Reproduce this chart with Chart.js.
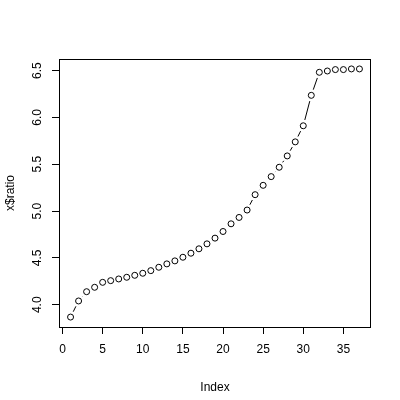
<!DOCTYPE html>
<html>
<head>
<meta charset="utf-8">
<script src="https://cdn.jsdelivr.net/npm/chart.js@4"></script>
<style>
  html, body { margin: 0; padding: 0; background: #fff; }
  #wrap { width: 400px; height: 400px; }
</style>
</head>
<body>
<div id="wrap"><canvas id="chart" width="400" height="400"></canvas></div>
<script>
// values (x$ratio by index)
const indexes = Array.from({ length: 37 }, (_, i) => i + 1)
const ratio = [
  3.868, 4.040, 4.139, 4.186, 4.239, 4.257, 4.275, 4.293, 4.314, 4.336,
  4.364, 4.400, 4.436, 4.468, 4.507, 4.550, 4.597, 4.650, 4.711, 4.782,
  4.864, 4.932, 5.011, 5.175, 5.275, 5.368, 5.468, 5.589, 5.739, 5.911,
  6.236, 6.482, 6.496, 6.511, 6.511, 6.518, 6.518,
]
const xTicks = [0, 5, 10, 15, 20, 25, 30, 35]
const yTicks = [4.0, 4.5, 5.0, 5.5, 6.0, 6.5]

const font = { family: 'Liberation Sans, Arial, sans-serif', size: 12 }

// R-style range: data range padded by 4% each side
const xMin = 1 - 0.04 * 36, xMax = 37 + 0.04 * 36
const yLo = Math.min(...ratio), yHi = Math.max(...ratio)
const yPad = 0.04 * (yHi - yLo)

// type = "b": lines between points, with a gap around each point
const gappedLines = {
  id: 'gappedLines',
  afterDatasetsDraw(chart) {
    const pts = chart.getDatasetMeta(0).data
    const gap = 6
    const ctx = chart.ctx
    ctx.save()
    ctx.strokeStyle = '#000'
    ctx.lineWidth = 1
    for (let i = 0; i < pts.length - 1; i++) {
      const a = pts[i], b = pts[i + 1]
      const dx = b.x - a.x, dy = b.y - a.y
      const len = Math.hypot(dx, dy)
      if (len <= 2 * gap) continue
      const ux = dx / len, uy = dy / len
      ctx.beginPath()
      ctx.moveTo(a.x + ux * gap, a.y + uy * gap)
      ctx.lineTo(b.x - ux * gap, b.y - uy * gap)
      ctx.stroke()
    }
    // box around plot region
    const ca = chart.chartArea
    ctx.strokeRect(ca.left + 0.5, ca.top + 0.5, ca.right - ca.left - 1, ca.bottom - ca.top)

    // y tick labels, reading bottom to top like R's las = 0
    const ys = chart.scales.y
    ctx.fillStyle = '#000'
    ctx.font = '12px ' + font.family
    ctx.textAlign = 'center'
    ctx.textBaseline = 'middle'
    yTicks.forEach(v => {
      ctx.save()
      ctx.translate(37.5, ys.getPixelForValue(v))
      ctx.rotate(-Math.PI / 2)
      ctx.fillText(v.toFixed(1), 0, 0)
      ctx.restore()
    })
    ctx.restore()
  },
}

const ctx = document.getElementById('chart')
new Chart(ctx, {
  type: 'scatter',
  data: {
    datasets: [{
      data: indexes.map((x, i) => ({ x, y: ratio[i] })),
      pointStyle: 'circle',
      pointRadius: 3,
      pointBorderWidth: 1,
      pointBorderColor: '#000',
      pointBackgroundColor: 'rgba(0,0,0,0)',
      showLine: false,
    }],
  },
  options: {
    responsive: false,
    animation: false,
    layout: { padding: { top: 59, right: 29, left: 0, bottom: 0 } },
    plugins: { legend: { display: false }, tooltip: { enabled: false } },
    scales: {
      x: {
        type: 'linear',
        min: xMin,
        max: xMax,
        afterFit(s) { s.height = 73 },
        afterBuildTicks(s) { s.ticks = xTicks.map(v => ({ value: v })) },
        grid: { drawOnChartArea: false, drawTicks: true, tickLength: 7, color: '#000' },
        border: { display: false },
        ticks: { color: '#000', font, padding: 8, maxRotation: 0 },
        title: { display: true, text: 'Index', color: '#000', font, padding: { top: 0, bottom: 5 } },
      },
      y: {
        type: 'linear',
        min: yLo - yPad,
        max: yHi + yPad,
        afterFit(s) { s.width = 59 },
        afterBuildTicks(s) { s.ticks = yTicks.map(v => ({ value: v })) },
        grid: { drawOnChartArea: false, drawTicks: true, tickLength: 7, color: '#000' },
        border: { display: false },
        ticks: { color: 'rgba(0,0,0,0)', font, padding: 6 },
        title: { display: true, text: 'x$ratio', color: '#000', font, padding: { top: 3, bottom: 0 } },
      },
    },
  },
  plugins: [gappedLines],
})
</script>
</body>
</html>
